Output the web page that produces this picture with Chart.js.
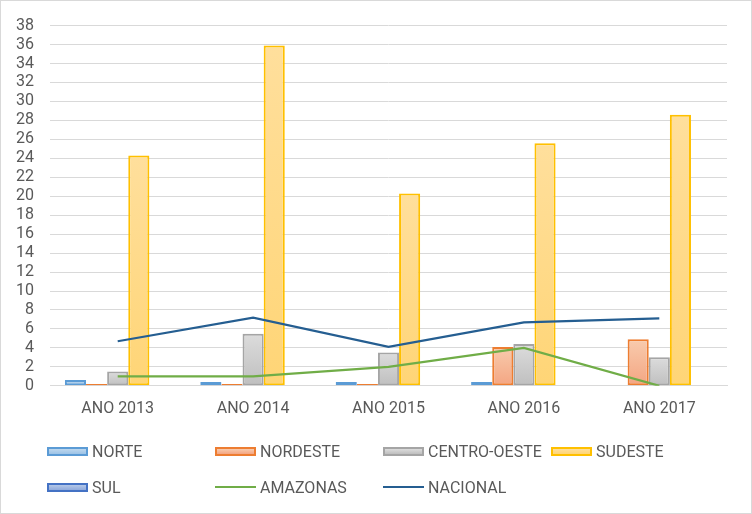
<!DOCTYPE html>
<html>
<head>
<meta charset="utf-8">
<script src="https://cdn.jsdelivr.net/npm/chart.js@4.4.1/dist/chart.umd.min.js"></script>
<style>
  html, body { margin: 0; padding: 0; background: #fff; }
  #wrap { position: relative; width: 752px; height: 514px; }
  #frame { position: absolute; left: 0; top: 0; width: 752px; height: 514px; box-sizing: border-box; border: 1px solid #d9d9d9; pointer-events: none; }
  #legend { position: absolute; left: 47px; top: 437px; display: grid; grid-template-columns: repeat(4, 168px); grid-auto-rows: 36px; font-family: Roboto, sans-serif; font-size: 16px; color: #595959; }
  .item { display: flex; align-items: center; height: 28px; white-space: nowrap; }
  .swatch { width: 41px; height: 9px; box-sizing: border-box; margin-right: 4px; flex: none; }
  .line { width: 41px; height: 2px; margin-right: 4px; flex: none; }
</style>
</head>
<body>
<div id="wrap">
  <canvas id="chart" width="752" height="514"></canvas>
  <div id="legend"></div>
  <div id="frame"></div>
</div>
<script>
// chart data
var categories = ['ANO 2013', 'ANO 2014', 'ANO 2015', 'ANO 2016', 'ANO 2017'];
var norte = [0.6, 0.4, 0.4, 0.4, 0];
var nordeste = [0.2, 0.2, 0.2, 4.1, 4.9];
var centroOeste = [1.5, 5.5, 3.5, 4.4, 3.0];
var sudeste = [24.3, 35.9, 20.3, 25.6, 28.6];
var sul = [0, 0, 0, 0, 0];
var amazonas = [1.0, 1.0, 2.0, 4.0, 0];
var nacional = [4.7, 7.2, 4.1, 6.7, 7.1];
var yTicks = { min: 0, max: 38, step: 2 };

// vertical gradient per bar, light on top
function barFill(top, bottom) {
  return function(c) {
    var chart = c.chart;
    if (c.type !== 'data' || !chart.chartArea || !chart.scales.y) return bottom;
    var y = chart.scales.y;
    var y0 = y.getPixelForValue(0), y1 = y.getPixelForValue(c.raw);
    if (!isFinite(y1) || Math.abs(y0 - y1) < 1) return bottom;
    var g = chart.ctx.createLinearGradient(0, y1, 0, y0);
    g.addColorStop(0, top);
    g.addColorStop(1, bottom);
    return g;
  };
}

function barSet(label, data, top, bottom, border) {
  return {
    type: 'bar', label: label, data: data,
    backgroundColor: barFill(top, bottom),
    borderColor: border, borderWidth: 2, borderSkipped: false,
    legendFill: 'linear-gradient(' + top + ',' + bottom + ')',
    order: 1
  };
}

function lineSet(label, data, color) {
  return {
    type: 'line', label: label, data: data,
    borderColor: color, backgroundColor: color,
    borderWidth: 2.25, pointRadius: 0, tension: 0, fill: false,
    order: 0
  };
}

var ctx = document.getElementById('chart');

var myChart = new Chart(ctx, {
  data: {
    labels: categories,
    datasets: [
      barSet('NORTE', norte, '#bdd7ee', '#9dc3e6', '#5b9bd5'),
      barSet('NORDESTE', nordeste, '#f8cbad', '#f4a582', '#ed7d31'),
      barSet('CENTRO-OESTE', centroOeste, '#dcdcdc', '#bfbfbf', '#a5a5a5'),
      barSet('SUDESTE', sudeste, '#ffdf9c', '#ffd576', '#ffc000'),
      barSet('SUL', sul, '#b4c7e7', '#8faadc', '#4472c4'),
      lineSet('AMAZONAS', amazonas, '#70ad47'),
      lineSet('NACIONAL', nacional, '#255e91')
    ]
  },
  options: {
    responsive: false,
    animation: false,
    devicePixelRatio: 1,
    layout: { padding: { left: 0, right: 25, top: 20, bottom: 81 } },
    datasets: { bar: { categoryPercentage: 0.78, barPercentage: 1 } },
    plugins: { legend: { display: false }, tooltip: { enabled: false } },
    scales: {
      x: {
        grid: { display: false, drawTicks: false },
        border: { display: true, color: '#d9d9d9', width: 1 },
        ticks: { color: '#595959', font: { family: 'Roboto', size: 16 }, padding: 14 }
      },
      y: {
        min: yTicks.min, max: yTicks.max,
        afterFit: function(scale) { scale.width = 50; },
        grid: { color: '#d9d9d9', drawTicks: false },
        border: { display: false },
        ticks: { stepSize: yTicks.step, autoSkip: false, color: '#595959', font: { family: 'Roboto', size: 16 }, padding: 16 }
      }
    }
  }
});

// legend in fixed columns, like the original
var legend = document.getElementById('legend');
myChart.data.datasets.forEach(function(ds) {
  var item = document.createElement('div');
  item.className = 'item';
  var mark = document.createElement('span');
  if (ds.type === 'bar') {
    mark.className = 'swatch';
    mark.style.background = ds.legendFill;
    mark.style.border = '2px solid ' + ds.borderColor;
  } else {
    mark.className = 'line';
    mark.style.background = ds.borderColor;
  }
  item.appendChild(mark);
  item.appendChild(document.createTextNode(ds.label));
  legend.appendChild(item);
});
</script>
</body>
</html>
